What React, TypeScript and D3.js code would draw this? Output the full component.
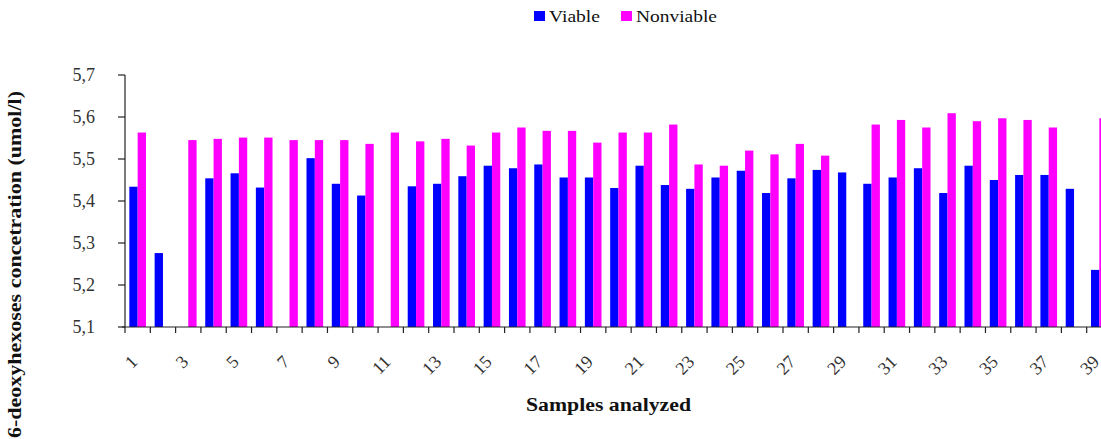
import React from "react";
import * as d3 from "d3";

const samples: string[] = Array.from({ length: 39 }, (_, i) => String(i + 1));

const viable: (number | null)[] = [
  5.434, 5.276, null, 5.454, 5.466, 5.432, null, 5.502, 5.441, 5.413,
  null, 5.435, 5.441, 5.459, 5.484, 5.478, 5.487, 5.456, 5.456, 5.431,
  5.484, 5.438, 5.429, 5.456, 5.472, 5.419, 5.454, 5.474, 5.468, 5.441,
  5.456, 5.478, 5.419, 5.484, 5.45, 5.462, 5.462, 5.429, 5.236,
];

const nonviable: (number | null)[] = [
  5.563, null, 5.545, 5.548, 5.551, 5.551, 5.545, 5.545, 5.545, 5.536,
  5.563, 5.542, 5.548, 5.532, 5.563, 5.575, 5.567, 5.567, 5.539, 5.563,
  5.563, 5.582, 5.487, 5.484, 5.52, 5.511, 5.536, 5.508, null, 5.582,
  5.593, 5.575, 5.609, 5.59, 5.597, 5.593, 5.575, null, 5.597,
];

const yTicks: number[] = [5.1, 5.2, 5.3, 5.4, 5.5, 5.6, 5.7];
const seriesNames = ["Viable", "Nonviable"];
const seriesColors = ["#0000ff", "#ff00ff"];

const W = 1101;
const H = 439;
const left = 125;
const right = 1112;
const top = 75;
const bottom = 327;
const serif = "'Liberation Serif', 'Times New Roman', serif";

export default function App() {
  const x0 = d3.scaleBand<string>().domain(samples).range([left, right]).padding(0);
  const x1 = d3
    .scaleBand<string>()
    .domain(seriesNames)
    .range([0, x0.bandwidth()])
    .paddingInner(0)
    .paddingOuter(0.52);
  const y = d3.scaleLinear().domain([5.1, 5.7]).range([bottom, top]);
  const fmt = (v: number) => d3.format(".1f")(v).replace(".", ",");

  const series = [viable, nonviable];
  const boundaries = d3.range(samples.length + 1).map((k) => left + k * x0.step());

  return (
    <svg
      width={W}
      height={H}
      style={{ position: "absolute", left: 0, top: 0, background: "#fff" }}
      fontFamily={serif}
    >
      {/* bars */}
      {samples.map((s, i) => (
        <g key={s} transform={`translate(${x0(s)},0)`}>
          {series.map((vals, si) => {
            const v = vals[i];
            if (v == null) return null;
            return (
              <rect
                key={si}
                x={x1(seriesNames[si])}
                y={y(v)}
                width={x1.bandwidth()}
                height={y(5.1) - y(v)}
                fill={seriesColors[si]}
              />
            );
          })}
        </g>
      ))}

      {/* y axis */}
      <line x1={left} x2={left} y1={top} y2={bottom} stroke="#222" strokeWidth={1.2} />
      {yTicks.map((t) => (
        <g key={t}>
          <line x1={left - 7} x2={left} y1={y(t)} y2={y(t)} stroke="#222" strokeWidth={1.2} />
          <text x={95} y={y(t)} dy="0.35em" textAnchor="end" fontSize={18} fill="#333">
            {fmt(t)}
          </text>
        </g>
      ))}

      {/* x axis */}
      <line x1={left - 3} x2={W} y1={bottom} y2={bottom} stroke="#222" strokeWidth={1.2} />
      {boundaries.map((bx, k) => (
        <line key={k} x1={bx} x2={bx} y1={bottom} y2={bottom + 6} stroke="#222" strokeWidth={1.2} />
      ))}
      {samples.map((s, i) =>
        i % 2 === 0 ? (
          <text
            key={s}
            transform={`translate(${(x0(s) as number) + x0.bandwidth() / 2 + 1},${363}) rotate(-45)`}
            textAnchor="end"
            fontSize={18}
            fill="#333"
          >
            {s}
          </text>
        ) : null
      )}

      {/* axis titles */}
      <text
        x={526}
        y={411}
        fontSize={18}
        fontWeight="bold"
        fill="#111"
        textLength={165}
        lengthAdjust="spacingAndGlyphs"
      >
        Samples analyzed
      </text>
      <text
        transform={`translate(${21},${438}) rotate(-90)`}
        fontSize={18}
        fontWeight="bold"
        fill="#111"
        textLength={347}
        lengthAdjust="spacingAndGlyphs"
      >
        6-deoxyhexoses concetration (umol/l)
      </text>

      {/* legend */}
      {seriesNames.map((n, i) => {
        const lx = [534, 621][i];
        const len = [51, 81][i];
        return (
          <g key={n}>
            <rect x={lx} y={11} width={11} height={10} fill={seriesColors[i]} />
            <text
              x={lx + 15}
              y={22}
              fontSize={17}
              fill="#111"
              textLength={len}
              lengthAdjust="spacingAndGlyphs"
            >
              {n}
            </text>
          </g>
        );
      })}
    </svg>
  );
}
